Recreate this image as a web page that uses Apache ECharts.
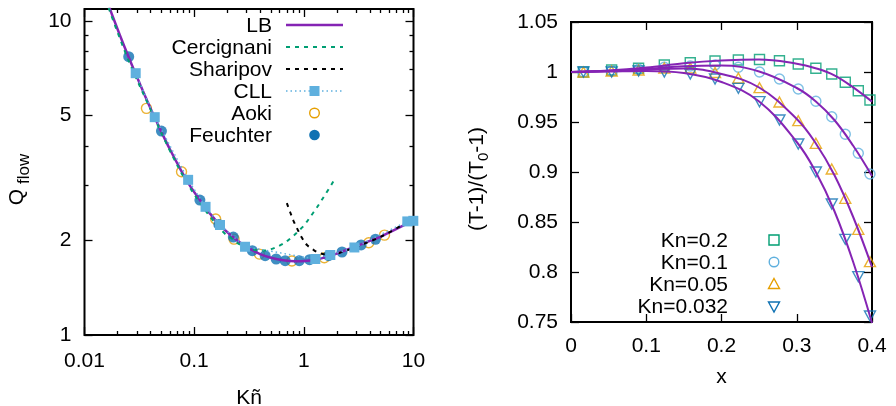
<!DOCTYPE html>
<html><head><meta charset="utf-8">
<script src="https://cdn.jsdelivr.net/npm/echarts@6/dist/echarts.min.js"></script>
<style>html,body{margin:0;padding:0;background:#fff}#c{width:896px;height:406px}</style>
</head><body><div id="c"></div>
<script>
// ---------- Left panel data (Q_flow vs Kn~) ----------
const lbKn = [0.0168, 0.0209, 0.0258, 0.0319, 0.0393, 0.0486, 0.0599, 0.074, 0.0914, 0.1128, 0.139, 0.172, 0.212, 0.262, 0.323, 0.399, 0.493, 0.608, 0.751, 0.927, 1.144, 1.413, 1.744, 2.153, 2.66, 3.28, 4.05, 5.0, 6.17, 7.62, 10];
const lbQ  = [11.08, 9.06, 7.54, 6.32, 5.34, 4.55, 3.91, 3.40, 2.99, 2.69, 2.44, 2.24, 2.09, 1.97, 1.88, 1.81, 1.765, 1.736, 1.721, 1.718, 1.728, 1.751, 1.787, 1.835, 1.886, 1.941, 1.998, 2.055, 2.131, 2.211, 2.315];
const cerKn = [0.0166, 0.0247, 0.0393, 0.06, 0.0876, 0.13, 0.1443, 0.191, 0.2167, 0.262, 0.359, 0.444, 0.528, 0.617, 0.724, 0.961, 1.227, 1.547, 1.897];
const cerQ  = [11.0, 7.62, 5.30, 3.87, 3.02, 2.46, 2.35, 2.10, 2.04, 1.94, 1.866, 1.858, 1.888, 1.935, 2.007, 2.197, 2.46, 2.78, 3.12];
const shaKn = [0.70, 0.751, 0.805, 0.876, 0.961, 1.068, 1.227, 1.413, 1.744, 2.4, 3.3, 4.5, 6.2, 9.4];
const shaQ  = [2.63, 2.46, 2.31, 2.17, 2.04, 1.935, 1.866, 1.82, 1.80, 1.855, 1.935, 2.02, 2.135, 2.32];
const cllKn = [0.0293, 0.0437, 0.0881, 0.127, 0.172, 0.291, 1.272, 1.744, 2.89, 8.78, 9.96];
const cllQ  = [6.82, 4.94, 3.12, 2.56, 2.24, 1.91, 1.746, 1.798, 1.90, 2.30, 2.31];
const aokiKn = [0.0367, 0.0767, 0.157, 0.231, 0.393, 0.778, 1.537, 3.91, 5.44];
const aokiQ  = [5.27, 3.31, 2.34, 2.02, 1.81, 1.721, 1.763, 1.968, 2.08];
const feuKn = [0.0253, 0.0503, 0.1128, 0.168, 0.2275, 0.339, 0.444, 0.559, 0.676, 0.908, 1.128, 1.683, 2.23, 3.33, 4.5];
const feuQ  = [7.70, 4.46, 2.69, 2.25, 2.05, 1.856, 1.789, 1.746, 1.725, 1.725, 1.737, 1.789, 1.838, 1.935, 2.018];
const leftXMajor = [0.01, 0.1, 1, 10];
const leftXMinor = [0.02,0.03,0.04,0.05,0.06,0.07,0.08,0.09, 0.2,0.3,0.4,0.5,0.6,0.7,0.8,0.9, 2,3,4,5,6,7,8,9];
const leftYMajor = [1, 2, 5, 10];
const leftYMinor = [3, 4, 6, 7, 8, 9];
const leftLegend = ['LB', 'Cercignani', 'Sharipov', 'CLL', 'Aoki', 'Feuchter'];

// ---------- Right panel data ((T-1)/(T0-1) vs x) ----------
const xNodes = [0.0165, 0.054, 0.0898, 0.124, 0.1585, 0.1914, 0.2224, 0.2505, 0.277, 0.302, 0.3254, 0.3465, 0.3645, 0.3818, 0.3973];
const pKn02   = [1.000, 1.002, 1.0037, 1.007, 1.0093, 1.011, 1.012, 1.0125, 1.0113, 1.008, 1.0037, 0.998, 0.9897, 0.9813, 0.972];
const pKn01   = [1.000, 1.001, 1.0027, 1.0047, 1.006, 1.007, 1.0048, 1.000, 0.993, 0.983, 0.9707, 0.9553, 0.9377, 0.9187, 0.898];
const pKn005  = [1.000, 1.001, 1.002, 1.004, 1.004, 0.9995, 0.994, 0.9843, 0.970, 0.9513, 0.9287, 0.903, 0.8737, 0.8427, 0.8103];
const pKn0032 = [1.000, 1.000, 1.001, 1.000, 0.998, 0.993, 0.9837, 0.9703, 0.952, 0.928, 0.900, 0.868, 0.8327, 0.7953, 0.756];
const lineX    = [0, 0.05, 0.1, 0.15, 0.2, 0.25, 0.3, 0.325, 0.35, 0.375, 0.4];
const lKn02    = [1.000, 1.0015, 1.0045, 1.0088, 1.0115, 1.0125, 1.0083, 1.0038, 0.9967, 0.9846, 0.9704];
const lKn01    = [1.000, 1.001, 1.003, 1.0057, 1.0065, 1.0005, 0.984, 0.9708, 0.952, 0.9262, 0.896];
const lKn005   = [1.000, 1.001, 1.0025, 1.0035, 0.998, 0.9845, 0.953, 0.929, 0.897, 0.855, 0.805];
const lKn0032  = [1.000, 1.0005, 1.001, 0.999, 0.990, 0.9705, 0.930, 0.9005, 0.861, 0.810, 0.749];
const rightLegend = ['Kn=0.2', 'Kn=0.1', 'Kn=0.05', 'Kn=0.032'];

const FONT = '"Liberation Sans", Arial, Helvetica, sans-serif';
const PURPLE = '#8524b4', GREEN = '#009e73', SKY = '#5fb0de', ORANGE = '#e69f00', BLUE = '#0f72b3';
const LOG = Math.log10;
const yTopLeft = 10.92;
const zip = (a, b) => a.map((v, i) => [v, b[i]]);
const fmtPow = v => String(+Math.pow(10, v).toPrecision(6));

function tickAxis(gridIndex, position, min, max, ticks, len, labels, extra, labelExtra) {
  return Object.assign({
    type: 'value', gridIndex, position, min, max,
    axisLine: {show: false, onZero: false},
    splitLine: {show: false},
    axisTick: {show: true, inside: true, length: len, customValues: ticks, lineStyle: {color: '#000', width: 1.3}},
    axisLabel: labels ? Object.assign({show: true, customValues: ticks, formatter: labels, color: '#000', fontSize: 21, fontFamily: FONT, margin: 11}, labelExtra || {}) : {show: false}
  }, extra || {});
}
const hiddenLog = (gridIndex, min, max) => ({
  type: 'log', logBase: 10, gridIndex, min, max, show: false,
  axisLine: {show: false, onZero: false}, splitLine: {show: false}
});

const xMajL = leftXMajor.map(LOG), xMinL = leftXMinor.map(LOG);
const yMajL = leftYMajor.map(LOG), yMinL = leftYMinor.map(LOG);
const nameStyle = {color: '#000', fontSize: 21, fontFamily: FONT};

const xAxis = [
  hiddenLog(0, 0.01, 10),                                                           // 0 data (log)
  tickAxis(0, 'bottom', -2, 1, xMajL, 8, fmtPow, {name: 'Kñ', nameLocation: 'middle', nameGap: 53, nameTextStyle: nameStyle}, {margin: 16}), // 1
  tickAxis(0, 'bottom', -2, 1, xMinL, 4),                                           // 2
  tickAxis(0, 'top', -2, 1, xMajL, 8),                                              // 3
  tickAxis(0, 'top', -2, 1, xMinL, 4),                                              // 4
  {type: 'value', gridIndex: 1, position: 'bottom', min: 0, max: 0.4, interval: 0.1,
   name: 'x', nameLocation: 'middle', nameGap: 45, nameTextStyle: nameStyle,
   axisLine: {show: false, onZero: false}, splitLine: {show: false},
   axisTick: {inside: true, length: 8, lineStyle: {color: '#000', width: 1.3}},
   axisLabel: {color: '#000', fontSize: 21, fontFamily: FONT, margin: 13.5}},        // 5
  {type: 'value', gridIndex: 1, position: 'top', min: 0, max: 0.4, interval: 0.1,
   axisLine: {show: false, onZero: false}, splitLine: {show: false},
   axisTick: {inside: true, length: 8, lineStyle: {color: '#000', width: 1.3}},
   axisLabel: {show: false}}                                                         // 6
];
const yAxis = [
  hiddenLog(0, 1, yTopLeft),                                                        // 0 data (log)
  tickAxis(0, 'left', 0, LOG(yTopLeft), yMajL, 8, fmtPow, {
    name: '{q|Q}{s|flow}', nameLocation: 'middle', nameRotate: 90, nameGap: 52,
    nameTextStyle: {color: '#000', fontFamily: FONT, padding: [0, 15, 0, 0], rich: {
      q: {fontSize: 21, fontFamily: FONT, color: '#000', verticalAlign: 'top'},
      s: {fontSize: 17, fontFamily: FONT, color: '#000', verticalAlign: 'top', padding: [9, 0, 0, 5]}}}},
    {padding: [11, 0, 0, 0], margin: 13}),                                           // 1
  tickAxis(0, 'left', 0, LOG(yTopLeft), yMinL, 4),                                  // 2
  tickAxis(0, 'right', 0, LOG(yTopLeft), yMajL, 8),                                 // 3
  tickAxis(0, 'right', 0, LOG(yTopLeft), yMinL, 4),                                 // 4
  {type: 'value', gridIndex: 1, position: 'left', min: 0.75, max: 1.05, interval: 0.05,
   name: '{a|(T-1)/(T}{s|0}{a|-1)}', nameLocation: 'middle', nameRotate: 90, nameGap: 80,
   nameTextStyle: {color: '#000', fontFamily: FONT, padding: [0, 14, 0, 0], rich: {
     a: {fontSize: 21, fontFamily: FONT, color: '#000', verticalAlign: 'top'},
     s: {fontSize: 15, fontFamily: FONT, color: '#000', verticalAlign: 'top', padding: [9, 0, 0, 0]}}},
   axisLine: {show: false, onZero: false}, splitLine: {show: false},
   axisTick: {inside: true, length: 8, lineStyle: {color: '#000', width: 1.3}},
   axisLabel: {color: '#000', fontSize: 21, fontFamily: FONT, margin: 13, padding: [8, 0, 0, 0]}}, // 5
  {type: 'value', gridIndex: 1, position: 'right', min: 0.75, max: 1.05, interval: 0.05,
   axisLine: {show: false, onZero: false}, splitLine: {show: false},
   axisTick: {inside: true, length: 8, lineStyle: {color: '#000', width: 1.3}},
   axisLabel: {show: false}}                                                         // 6
];

const L0 = {xAxisIndex: 0, yAxisIndex: 0};
const R0 = {xAxisIndex: 5, yAxisIndex: 5};
const series = [
  Object.assign({type: 'line', name: 'LB', data: zip(lbKn, lbQ), symbol: 'none', smooth: 0.35,
    lineStyle: {color: PURPLE, width: 2.5}}, L0),
  Object.assign({type: 'line', name: 'Cercignani', data: zip(cerKn, cerQ), symbol: 'none', smooth: 0.35,
    lineStyle: {color: GREEN, width: 2, type: [4, 5]}}, L0),
  Object.assign({type: 'line', name: 'Sharipov', data: zip(shaKn, shaQ), symbol: 'none', smooth: 0.35,
    lineStyle: {color: '#000', width: 2, type: [4, 5]}}, L0),
  Object.assign({type: 'line', name: 'CLL', data: zip(cllKn, cllQ), symbol: 'rect', symbolSize: 10, showSymbol: true,
    itemStyle: {color: SKY}, lineStyle: {color: SKY, width: 1.5, type: [1.5, 3]}}, L0),
  Object.assign({type: 'scatter', name: 'Aoki', data: zip(aokiKn, aokiQ), symbol: 'circle', symbolSize: 10,
    itemStyle: {color: 'rgba(0,0,0,0)', borderColor: ORANGE, borderWidth: 1.4}}, L0),
  Object.assign({type: 'scatter', name: 'Feuchter', data: zip(feuKn, feuQ), symbol: 'circle', symbolSize: 11,
    itemStyle: {color: BLUE}}, L0)
];
const rightLines = [lKn02, lKn01, lKn005, lKn0032];
rightLines.forEach((arr, i) => series.push(Object.assign({type: 'line', name: 'LB ' + rightLegend[i],
  data: zip(lineX, arr), symbol: 'none', smooth: 0.4, lineStyle: {color: PURPLE, width: 2}}, R0)));
const rightPts = [
  {d: pKn02, sym: 'rect', size: 10, c: GREEN, rot: 0},
  {d: pKn01, sym: 'circle', size: 10, c: SKY, rot: 0},
  {d: pKn005, sym: 'triangle', size: [11, 10], c: ORANGE, rot: 0},
  {d: pKn0032, sym: 'triangle', size: [11, 10], c: BLUE, rot: 180}
];
rightPts.forEach((p, i) => series.push(Object.assign({type: 'scatter', name: rightLegend[i],
  data: zip(xNodes, p.d), symbol: p.sym, symbolSize: p.size, symbolRotate: p.rot,
  itemStyle: {color: 'rgba(0,0,0,0)', borderColor: p.c, borderWidth: 1.4}}, R0)));

// ---------- legends (drawn as graphics) ----------
const g = [];
const txt = (t, x, y) => ({type: 'text', z: 10, style: {text: t, x, y, textAlign: 'right', align: 'right',
  textVerticalAlign: 'middle', verticalAlign: 'middle', fontSize: 21, fontFamily: FONT, fill: '#000'}});
const lrows = [25, 47, 69, 91, 113, 135];
leftLegend.forEach((t, i) => g.push(txt(t, 272, lrows[i] + 1)));
const seg = (y, color, w, dash) => ({type: 'line', z: 10, shape: {x1: 286, y1: y, x2: 343, y2: y},
  style: {stroke: color, lineWidth: w, lineDash: dash || null}});
g.push(seg(lrows[0], PURPLE, 2.5));
g.push(seg(lrows[1], GREEN, 2, [4, 5]));
g.push(seg(lrows[2], '#000', 2, [4, 5]));
g.push(seg(lrows[3], SKY, 1.5, [1.5, 3]));
g.push({type: 'rect', z: 11, shape: {x: 309.5, y: lrows[3] - 5, width: 10, height: 10}, style: {fill: SKY}});
g.push({type: 'circle', z: 11, shape: {cx: 314.5, cy: lrows[4], r: 4.8}, style: {fill: 'none', stroke: ORANGE, lineWidth: 1.4}});
g.push({type: 'circle', z: 11, shape: {cx: 314.5, cy: lrows[5], r: 5.3}, style: {fill: BLUE}});
const rrows = [240, 262, 284, 306.5];
rightLegend.forEach((t, i) => g.push(txt(t, 728, rrows[i] + 1)));
g.push({type: 'rect', z: 11, shape: {x: 769, y: rrows[0] - 5, width: 10, height: 10}, style: {fill: 'none', stroke: GREEN, lineWidth: 1.4}});
g.push({type: 'circle', z: 11, shape: {cx: 774, cy: rrows[1], r: 4.8}, style: {fill: 'none', stroke: SKY, lineWidth: 1.4}});
g.push({type: 'polygon', z: 11, shape: {points: [[774, rrows[2] - 5.5], [779.5, rrows[2] + 4.5], [768.5, rrows[2] + 4.5]]}, style: {fill: 'none', stroke: ORANGE, lineWidth: 1.4}});
g.push({type: 'polygon', z: 11, shape: {points: [[768.5, rrows[3] - 4.5], [779.5, rrows[3] - 4.5], [774, rrows[3] + 5.5]]}, style: {fill: 'none', stroke: BLUE, lineWidth: 1.4}});

const chart = echarts.init(document.getElementById('c'), null, {renderer: 'canvas'});
chart.setOption({
  animation: false,
  backgroundColor: '#fff',
  textStyle: {fontFamily: FONT},
  grid: [
    {left: 84.5, top: 9, width: 329, height: 326, show: true, borderColor: '#000', borderWidth: 2, backgroundColor: 'transparent', containLabel: false, outerBoundsMode: 'none'},
    {left: 571, top: 22, width: 301, height: 300, show: true, borderColor: '#000', borderWidth: 2, backgroundColor: 'transparent', containLabel: false, outerBoundsMode: 'none'}
  ],
  xAxis, yAxis, series,
  graphic: {elements: g}
});
</script></body></html>
